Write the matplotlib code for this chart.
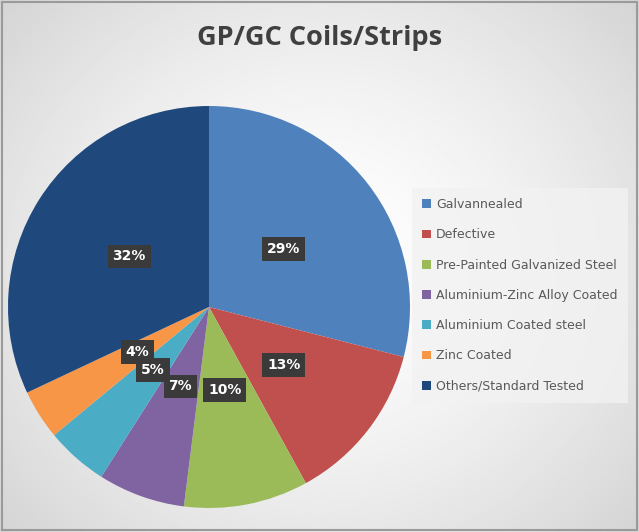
import numpy as np
import matplotlib.pyplot as plt

# GP/GC coil / strip share
categories = ["Galvannealed", "Defective", "Pre-Painted Galvanized Steel",
              "Aluminium-Zinc Alloy Coated", "Aluminium Coated steel",
              "Zinc Coated", "Others/Standard Tested"]
shares = [29, 13, 10, 7, 5, 4, 32]
colors = ["#4F81BD", "#C0504D", "#9BBB59", "#8064A2", "#4BACC6", "#F79646", "#1F497D"]

fig = plt.figure(figsize=(6.39, 5.32), dpi=100)

# radial grey background like the office chart area
bg = fig.add_axes([0, 0, 1, 1])
yy, xx = np.mgrid[-1:1:300j, -1:1:300j]
rr = np.sqrt(xx ** 2 + (yy * 0.9) ** 2)
bg.imshow(1 - 0.17 * np.clip(rr / 1.35, 0, 1) ** 1.5, cmap="gray", vmin=0, vmax=1,
          extent=[0, 1, 0, 1], aspect="auto")
bg.plot([0.003, 0.997, 0.997, 0.003, 0.003], [0.003, 0.003, 0.997, 0.997, 0.003],
        color="#9a9a9a", lw=1.5)
bg.set_xlim(0, 1)
bg.set_ylim(0, 1)
bg.axis("off")

fig.text(0.5, 0.928, "GP/GC Coils/Strips", ha="center", va="center",
         fontsize=19.5, fontweight="bold", color="#404040", family="Open Sans")

ax = fig.add_axes([8 / 639, 24 / 532, 402 / 639, 402 / 532])
wedges, _, autotexts = ax.pie(shares, colors=colors, startangle=90, counterclock=False,
                              autopct="%d%%", pctdistance=0.47,
                              wedgeprops=dict(linewidth=0))
ax.set_xlim(-1, 1)
ax.set_ylim(-1, 1)
ax.set_aspect("equal")

for w, t, v in zip(wedges, autotexts, shares):
    # big slices get labels further out, small ones tucked nearer the centre
    d = 0.47 if v >= 13 else 0.42
    ang = np.deg2rad((w.theta1 + w.theta2) / 2)
    t.set_position((d * np.cos(ang), d * np.sin(ang)))
    t.set_color("white")
    t.set_fontweight("bold")
    t.set_fontsize(10)
    t.set_bbox(dict(boxstyle="square,pad=0.35", facecolor="#3a3a3a", edgecolor="none"))

leg = fig.legend(wedges, categories, loc="center left", bbox_to_anchor=(406 / 639, 0.445),
                 frameon=True, fontsize=9, labelspacing=1.38, handlelength=0.7,
                 handleheight=0.7, handletextpad=0.4, borderpad=0.8, fancybox=False)
leg.get_frame().set_facecolor("#f2f2f2")
leg.get_frame().set_edgecolor("none")
for t in leg.get_texts():
    t.set_color("#595959")

fig.savefig("out.png", dpi=100)
